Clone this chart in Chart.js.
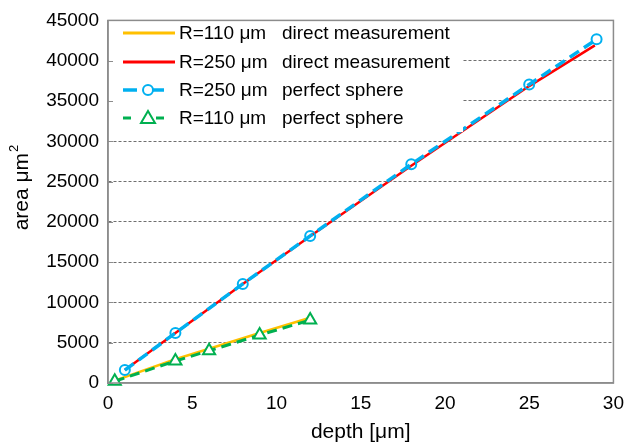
<!DOCTYPE html>
<html>
<head>
<meta charset="utf-8">
<script src="https://cdn.jsdelivr.net/npm/chart.js@4/dist/chart.umd.min.js"></script>
<style>
html,body{margin:0;padding:0;background:#fff;}
canvas{display:block;}
</style>
</head>
<body>
<canvas id="c" width="633" height="447"></canvas>
<script>
// ---- data ----
const depthSphere250 = [1, 4, 8, 12, 18, 25, 29];
const sphere250      = [1600, 6200, 12300, 18250, 27150, 37050, 42650];
const depthDirect250 = [1, 4, 8, 12, 18, 25, 28.9];
const direct250      = [1600, 6200, 12300, 18200, 26950, 36850, 41900];
const depth110       = [0.4, 4, 6, 9, 12];
const direct110      = [300, 2950, 4250, 6200, 8100];
const sphere110      = [220, 2730, 4000, 5950, 7810];
const xTickLabels = ['0', '5', '10', '15', '20', '25', '30'];
const yTickLabels = ['0', '5000', '10000', '15000', '20000', '25000', '30000', '35000', '40000', '45000'];
const seriesNames = [
  ['R=110 \u03bcm', 'direct measurement'],
  ['R=250 \u03bcm', 'direct measurement'],
  ['R=250 \u03bcm', 'perfect sphere'],
  ['R=110 \u03bcm', 'perfect sphere']
];
const xTitle = 'depth [\u03bcm]';
const yTitleMain = 'area \u03bcm';
const yTitleSup = '2';

const FONT = "'Liberation Sans', Arial, sans-serif";
const COLORS = { yellow: '#FFC000', red: '#FF0000', blue: '#00B0F0', green: '#00B050', grid: '#6f6f6f', frame: '#8c8c8c' };

const pts = (xs, ys) => xs.map((x, i) => ({ x: x, y: ys[i] }));

const frameAndLegend = {
  id: 'frameAndLegend',
  afterDatasetsDraw(chart) {
    const ctx = chart.ctx;
    const a = chart.chartArea;
    const y = chart.scales.y;
    ctx.save();
    // legend background covering grid lines
    ctx.fillStyle = '#fff';
    ctx.fillRect(a.left + 1, a.top + 1, 463 - a.left - 1, 132 - a.top - 1);
    // inner tick marks on y axis
    ctx.strokeStyle = COLORS.frame;
    ctx.lineWidth = 1;
    yTickLabels.forEach(t => {
      const py = Math.round(y.getPixelForValue(Number(t))) + 0.5;
      ctx.beginPath();
      ctx.moveTo(a.left, py);
      ctx.lineTo(a.left + 5, py);
      ctx.stroke();
    });
    // frame
    ctx.strokeStyle = COLORS.frame;
    ctx.lineWidth = 1.5;
    ctx.strokeRect(a.left, a.top, a.right - a.left, a.bottom - a.top);

    // legend entries
    const rows = [33, 62, 90, 118];
    const x0 = 123, x1 = 175, xm = 148;
    ctx.lineCap = 'butt';
    ctx.setLineDash([]);
    // yellow
    ctx.lineWidth = 3; ctx.strokeStyle = COLORS.yellow;
    ctx.beginPath(); ctx.moveTo(x0, rows[0]); ctx.lineTo(x1, rows[0]); ctx.stroke();
    // red
    ctx.strokeStyle = COLORS.red;
    ctx.beginPath(); ctx.moveTo(x0, rows[1]); ctx.lineTo(x1, rows[1]); ctx.stroke();
    // blue dashed with circle
    ctx.lineWidth = 3.5; ctx.strokeStyle = COLORS.blue;
    ctx.beginPath(); ctx.moveTo(x0, rows[2]); ctx.lineTo(x0 + 14, rows[2]); ctx.stroke();
    ctx.beginPath(); ctx.moveTo(xm + 4, rows[2]); ctx.lineTo(x0 + 41, rows[2]); ctx.stroke();
    ctx.lineWidth = 2;
    ctx.beginPath(); ctx.arc(xm, rows[2], 5, 0, Math.PI * 2); ctx.stroke();
    // green dashed with triangle
    ctx.lineWidth = 3; ctx.strokeStyle = COLORS.green;
    ctx.beginPath(); ctx.moveTo(x0, rows[3]); ctx.lineTo(x0 + 8, rows[3]); ctx.stroke();
    ctx.beginPath(); ctx.moveTo(x0 + 33, rows[3]); ctx.lineTo(x0 + 41, rows[3]); ctx.stroke();
    ctx.fillStyle = '#fff';
    ctx.lineWidth = 2;
    ctx.beginPath();
    ctx.moveTo(xm, rows[3] - 7);
    ctx.lineTo(xm + 7, rows[3] + 5);
    ctx.lineTo(xm - 7, rows[3] + 5);
    ctx.closePath();
    ctx.fill(); ctx.stroke();
    // texts
    ctx.fillStyle = '#000';
    ctx.font = '19px ' + FONT;
    ctx.textBaseline = 'middle';
    ctx.textAlign = 'left';
    seriesNames.forEach((n, i) => {
      ctx.fillText(n[0], 179, rows[i] + 1);
      ctx.fillText(n[1], 282, rows[i] + 1);
    });

    // y axis title with superscript
    ctx.translate(22, 188);
    ctx.rotate(-Math.PI / 2);
    ctx.font = '21px ' + FONT;
    const wMain = ctx.measureText(yTitleMain).width;
    ctx.font = '13px ' + FONT;
    const wSup = ctx.measureText(yTitleSup).width;
    const start = -(wMain + wSup) / 2;
    ctx.font = '21px ' + FONT;
    ctx.textBaseline = 'middle';
    ctx.fillText(yTitleMain, start, 0);
    ctx.font = '13px ' + FONT;
    ctx.fillText(yTitleSup, start + wMain + 1, -8);
    ctx.restore();
  }
};

new Chart(document.getElementById('c'), {
  type: 'scatter',
  data: {
    datasets: [
      { label: seriesNames[0].join(' '), data: pts(depth110, direct110), showLine: true,
        borderColor: COLORS.yellow, borderWidth: 2.5, pointRadius: 0, order: 4, clip: false },
      { label: seriesNames[1].join(' '), data: pts(depthDirect250, direct250), showLine: true,
        borderColor: COLORS.red, borderWidth: 2.5, pointRadius: 0, order: 3, clip: false },
      { label: seriesNames[2].join(' '), data: pts(depthSphere250, sphere250), showLine: true,
        borderColor: COLORS.blue, borderWidth: 3.5, borderDash: [11, 6],
        pointStyle: 'circle', pointRadius: 5, pointBorderWidth: 2,
        pointBorderColor: COLORS.blue, pointBackgroundColor: 'rgba(255,255,255,0)', order: 1, clip: false },
      { label: seriesNames[3].join(' '), data: pts(depth110, sphere110), showLine: true,
        borderColor: COLORS.green, borderWidth: 3, borderDash: [10, 6],
        pointStyle: 'triangle', pointRadius: 7, pointBorderWidth: 2,
        pointBorderColor: COLORS.green, pointBackgroundColor: '#fff', order: 2, clip: false }
    ]
  },
  options: {
    responsive: false,
    animation: false,
    devicePixelRatio: 1,
    layout: { padding: { top: 20, right: 11, left: 0, bottom: 0 } },
    plugins: { legend: { display: false }, tooltip: { enabled: false } },
    scales: {
      x: {
        type: 'linear', min: 0, max: 30,
        afterFit(s) { s.height = 64; },
        afterBuildTicks(s) { s.ticks = xTickLabels.map(v => ({ value: Number(v) })); },
        ticks: { color: '#000', font: { family: FONT, size: 19 }, padding: 9, maxRotation: 0,
                 callback: (v) => String(v) },
        grid: { display: false, drawTicks: false },
        border: { display: true, color: COLORS.frame, width: 1.5 },
        title: { display: true, text: xTitle, color: '#000', font: { family: FONT, size: 21 },
                 padding: { top: 0, bottom: 2 } }
      },
      y: {
        type: 'linear', min: 0, max: 45000,
        afterFit(s) { s.width = 108; },
        afterBuildTicks(s) { s.ticks = yTickLabels.map(v => ({ value: Number(v) })); },
        ticks: { color: '#000', font: { family: FONT, size: 19 }, padding: 9,
                 callback: (v) => String(v) },
        grid: {
          drawTicks: false, lineWidth: 1,
          color: (c) => (c.tick && (c.tick.value === 0 || c.tick.value === 45000)) ? 'rgba(0,0,0,0)' : COLORS.grid
        },
        border: { display: true, color: COLORS.frame, width: 1.5, dash: [3, 2] },
        title: { display: false }
      }
    }
  },
  plugins: [frameAndLegend]
});
</script>
</body>
</html>
